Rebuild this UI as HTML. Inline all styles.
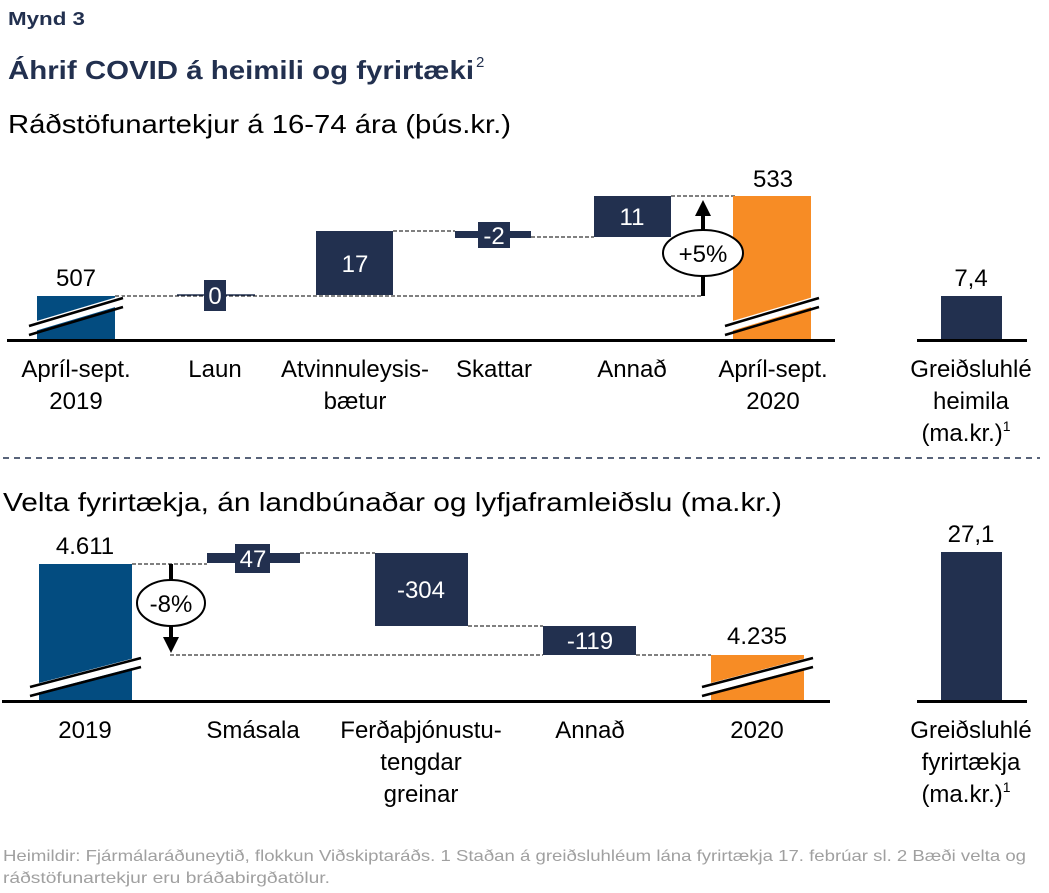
<!DOCTYPE html>
<html><head><meta charset="utf-8"><style>
html,body{margin:0;padding:0;background:#fff;}
svg{display:block;font-family:"Liberation Sans",sans-serif;}
</style></head><body>
<svg width="1049" height="893" viewBox="0 0 1049 893" xmlns="http://www.w3.org/2000/svg">
<defs><marker id="ah" viewBox="0 0 10 10" refX="5" refY="5" markerWidth="4" markerHeight="4" orient="auto"><path d="M0,0L10,5L0,10z" fill="#000"/></marker></defs>
<text x="8" y="25" font-size="18" font-weight="bold" fill="#22304f" textLength="77" lengthAdjust="spacingAndGlyphs">Mynd 3</text>
<text x="8" y="79" font-size="26" font-weight="bold" fill="#22304f" textLength="466" lengthAdjust="spacingAndGlyphs">Áhrif COVID á heimili og fyrirtæki</text>
<text x="476" y="67" font-size="15" fill="#22304f">2</text>
<text x="8" y="133" font-size="26" fill="#000" textLength="503" lengthAdjust="spacingAndGlyphs">Ráðstöfunartekjur á 16-74 ára (þús.kr.)</text>

<!-- top chart -->
<g stroke="#000" stroke-width="1" stroke-dasharray="4,2" fill="none">
<line x1="115" y1="296" x2="703" y2="296"/>
<line x1="393" y1="231" x2="455" y2="231"/>
<line x1="531" y1="237" x2="594" y2="237"/>
<line x1="671" y1="196" x2="735" y2="196"/>
</g>
<rect x="37" y="296" width="78" height="45" fill="#034c80"/>
<line x1="177" y1="295" x2="255" y2="295" stroke="#22304f" stroke-width="1.5"/>
<rect x="204" y="280" width="22" height="31" fill="#22304f"/>
<text x="215" y="304" font-size="24" fill="#fff" text-anchor="middle">0</text>
<rect x="316" y="231" width="77" height="64" fill="#22304f"/>
<text x="355" y="272" font-size="24" fill="#fff" text-anchor="middle">17</text>
<rect x="455" y="231" width="76" height="7" fill="#22304f"/>
<rect x="478" y="222" width="32" height="26" fill="#22304f"/>
<text x="494" y="244" font-size="24" fill="#fff" text-anchor="middle">-2</text>
<rect x="594" y="196" width="77" height="41" fill="#22304f"/>
<text x="632" y="225" font-size="24" fill="#fff" text-anchor="middle">11</text>
<rect x="733" y="196" width="78" height="145" fill="#f78c25"/>
<line x1="703" y1="296" x2="703" y2="208" stroke="#000" stroke-width="4" marker-end="url(#ah)"/>
<ellipse cx="703" cy="253" rx="40" ry="23" fill="#fff" stroke="#000" stroke-width="2"/>
<text x="703" y="262" font-size="24" text-anchor="middle">+5%</text>
<g stroke="#fff" stroke-width="9"><line x1="29" y1="328" x2="123" y2="300"/><line x1="725" y1="328" x2="819" y2="300"/></g>
<g stroke="#000" stroke-width="2.5"><line x1="29" y1="326" x2="123" y2="298"/><line x1="29" y1="335" x2="123" y2="307"/><line x1="725" y1="326" x2="819" y2="298"/><line x1="725" y1="335" x2="819" y2="307"/></g>
<rect x="7" y="339" width="828" height="3" fill="#000"/>
<rect x="941" y="296" width="61" height="45" fill="#22304f"/>
<rect x="917" y="339" width="110" height="3" fill="#000"/>
<g font-size="24" text-anchor="middle" fill="#000">
<text x="76" y="286">507</text><text x="773" y="187">533</text><text x="971" y="286">7,4</text>
<text x="76" y="377">Apríl-sept.</text><text x="76" y="409">2019</text>
<text x="215" y="377">Laun</text>
<text x="355" y="377">Atvinnuleysis-</text><text x="355" y="409">bætur</text>
<text x="494" y="377">Skattar</text>
<text x="632" y="377">Annað</text>
<text x="773" y="377">Apríl-sept.</text><text x="773" y="409">2020</text>
<text x="971" y="377">Greiðsluhlé</text><text x="971" y="409">heimila</text><text x="966" y="441">(ma.kr.)<tspan font-size="14" dy="-10">1</tspan></text>
</g>
<line x1="3" y1="458" x2="1040" y2="458" stroke="#22304f" stroke-width="1.5" stroke-dasharray="6,5"/>

<text x="3" y="511" font-size="26" fill="#000" textLength="779" lengthAdjust="spacingAndGlyphs">Velta fyrirtækja, án landbúnaðar og lyfjaframleiðslu (ma.kr.)</text>
<!-- bottom chart -->
<g stroke="#000" stroke-width="1" stroke-dasharray="4,2" fill="none">
<line x1="132" y1="564" x2="207" y2="564"/>
<line x1="300" y1="553" x2="375" y2="553"/>
<line x1="468" y1="626" x2="543" y2="626"/>
<line x1="170" y1="655" x2="543" y2="655"/>
<line x1="636" y1="655" x2="711" y2="655"/>
</g>
<rect x="39" y="564" width="93" height="137" fill="#034c80"/>
<rect x="207" y="553" width="93" height="10" fill="#22304f"/>
<rect x="235" y="544" width="35" height="29" fill="#22304f"/>
<text x="253" y="567" font-size="24" fill="#fff" text-anchor="middle">47</text>
<rect x="375" y="553" width="93" height="73" fill="#22304f"/>
<text x="421" y="598" font-size="24" fill="#fff" text-anchor="middle">-304</text>
<rect x="543" y="626" width="93" height="29" fill="#22304f"/>
<text x="590" y="649" font-size="24" fill="#fff" text-anchor="middle">-119</text>
<rect x="711" y="655" width="93" height="46" fill="#f78c25"/>
<line x1="171" y1="564" x2="171" y2="645" stroke="#000" stroke-width="4" marker-end="url(#ah)"/>
<ellipse cx="171" cy="603" rx="34" ry="23" fill="#fff" stroke="#000" stroke-width="2"/>
<text x="171" y="612" font-size="24" text-anchor="middle">-8%</text>
<g stroke="#fff" stroke-width="9"><line x1="30" y1="690" x2="141" y2="661"/><line x1="702" y1="690" x2="813" y2="661"/></g>
<g stroke="#000" stroke-width="2.5"><line x1="30" y1="687" x2="141" y2="658"/><line x1="30" y1="696" x2="141" y2="667"/><line x1="702" y1="687" x2="813" y2="658"/><line x1="702" y1="696" x2="813" y2="667"/></g>
<rect x="2" y="700" width="828" height="3" fill="#000"/>
<rect x="941" y="552" width="61" height="149" fill="#22304f"/>
<rect x="917" y="700" width="110" height="3" fill="#000"/>
<g font-size="24" text-anchor="middle" fill="#000">
<text x="85" y="554">4.611</text><text x="757" y="644">4.235</text><text x="971" y="542">27,1</text>
<text x="85" y="738">2019</text>
<text x="253" y="738">Smásala</text>
<text x="421" y="738">Ferðaþjónustu-</text><text x="421" y="770">tengdar</text><text x="421" y="802">greinar</text>
<text x="590" y="738">Annað</text>
<text x="757" y="738">2020</text>
<text x="971" y="738">Greiðsluhlé</text><text x="971" y="770">fyrirtækja</text><text x="966" y="802">(ma.kr.)<tspan font-size="14" dy="-10">1</tspan></text>
</g>
<g font-size="16" fill="#a0a0a0">
<text x="3" y="861" textLength="1023" lengthAdjust="spacingAndGlyphs">Heimildir: Fjármálaráðuneytið, flokkun Viðskiptaráðs. 1 Staðan á greiðsluhléum lána fyrirtækja 17. febrúar sl. 2 Bæði velta og</text>
<text x="3" y="883" textLength="327" lengthAdjust="spacingAndGlyphs">ráðstöfunartekjur eru bráðabirgðatölur.</text>
</g>
</svg>
</body></html>
